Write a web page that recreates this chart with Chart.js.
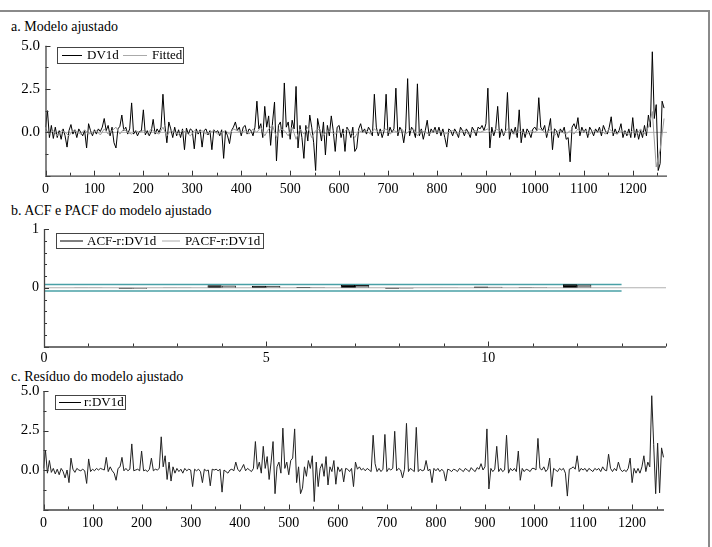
<!DOCTYPE html>
<html><head><meta charset="utf-8">
<script src="https://cdn.jsdelivr.net/npm/chart.js@4.4.1/dist/chart.umd.min.js"></script>
<style>
html,body{margin:0;padding:0;background:#fff;}
body{width:712px;height:547px;position:relative;overflow:hidden;font-family:"Liberation Serif",serif;}
.frame{position:absolute;left:-2px;top:10px;width:710px;height:545px;border-top:2px solid #8a8a8a;border-right:2px solid #8a8a8a;}
.title{position:absolute;left:11px;font-size:14px;line-height:16px;color:#000;white-space:nowrap;}
canvas{position:absolute;left:0;}
</style></head><body>
<div class="frame"></div>
<div class="title" style="top:19px">a. Modelo ajustado</div>
<div class="title" style="top:203px">b. ACF e PACF do modelo ajustado</div>
<div class="title" style="top:369px">c. Resíduo do modelo ajustado</div>
<canvas id="ca" width="712" height="175" style="top:30px;width:712px;height:175px"></canvas>
<canvas id="cb" width="712" height="160" style="top:215px;width:712px;height:160px"></canvas>
<canvas id="cc" width="712" height="169" style="top:378px;width:712px;height:169px"></canvas>
<script>
// ---------- data ----------
const dvStep = 4;          // DV1d sampled every 4 observations (0..1264)
const dv1d = [
 0.3,1.25,-0.3,0.4,-0.35,0.3,-0.3,0.1,-0.4,0.2,-0.2,-0.85,0.1,0.45,-0.1,0.15,-0.3,0.2,0.0,-0.2,0.1,-0.9,0.5,0.1,-0.2,
 0.15,-0.1,0.2,0.05,0.3,0.8,0.1,0.4,-0.2,0.3,-0.6,-0.9,0.2,0.35,1.0,0.1,0.3,-0.1,0.2,1.7,-0.1,0.1,-0.2,0.05,0.1,
 1.3,-0.15,0.1,-0.2,0.05,0.75,-0.1,0.2,0.0,0.3,2.2,0.4,-0.6,0.6,0.2,-0.3,0.3,-0.2,0.15,-0.3,0.2,-1.0,0.25,-0.1,0.2,
 0.1,-0.95,0.2,-0.1,0.15,-0.85,0.1,0.2,-0.15,0.1,-1.0,0.15,0.0,0.1,-0.2,0.15,-1.5,0.1,-0.2,-0.65,0.1,0.3,0.6,0.1,0.3,
 -0.2,0.3,0.4,-0.1,0.2,0.1,-0.2,0.3,1.8,0.2,0.5,-0.3,1.5,0.3,0.95,-0.75,0.6,1.75,-1.65,0.4,0.6,-0.3,2.85,0.3,0.6,
 -0.4,0.7,0.2,2.65,-0.9,0.4,-0.3,-1.5,0.4,-0.5,1.0,0.3,-0.6,-2.2,0.8,0.2,-0.5,0.6,-1.3,0.4,-0.2,0.95,0.1,-1.1,0.3,
 0.4,-0.3,0.2,-1.1,0.3,0.1,-0.3,0.3,-1.1,-0.9,0.2,0.5,0.0,0.2,-0.1,0.3,0.1,-0.2,2.2,0.3,-0.2,0.2,-0.3,0.1,2.2,
 -0.2,0.3,0.0,0.2,2.55,-0.2,0.3,0.1,-0.6,0.2,3.1,-0.2,0.3,0.1,-0.3,2.8,-0.2,0.2,-0.4,0.1,0.7,-0.2,0.2,0.0,0.3,
 -0.1,0.3,-0.2,0.2,-0.3,-0.85,0.2,0.1,-0.2,0.2,0.0,-0.3,0.3,0.1,-0.2,0.2,0.0,-0.3,0.3,0.1,-0.2,0.3,0.2,0.4,0.1,
 0.5,2.55,-0.9,0.3,-0.2,0.2,1.5,-0.3,0.2,-0.2,0.1,2.3,-0.4,0.2,-0.1,0.3,-0.3,1.3,-0.6,0.2,-0.3,0.2,0.0,-0.3,0.2,
 0.3,0.1,2.0,0.3,0.1,0.4,-0.3,0.2,0.8,-1.0,0.2,0.1,-0.3,0.2,0.0,0.3,-0.4,-0.3,-1.7,0.3,0.5,0.2,0.85,-0.2,0.3,
 0.0,0.2,-0.3,0.3,0.1,-0.2,0.2,0.0,0.3,-0.2,0.4,0.1,-0.1,0.3,0.9,-0.2,0.2,-0.1,0.1,0.5,-0.3,0.1,-0.2,0.2,-0.3,
 0.85,-0.3,0.2,-0.4,0.1,-0.3,0.4,-0.2,1.0,0.3,4.65,0.8,1.6,-2.2,-1.8,1.8,1.4
];
const fitStep = 8;         // Fitted sampled every 8 observations (0..1264)
const fitted = [
 0.2,-0.1,0.1,-0.2,0.1,0.0,-0.2,0.1,0.05,-0.1,0.15,-0.1,0.0,0.1,-0.15,0.2,-0.1,0.1,0.3,-0.1,0.2,0.0,-0.1,0.1,0.0,
 0.1,-0.1,0.2,0.0,-0.1,0.3,-0.2,0.1,0.0,-0.1,0.1,0.0,-0.2,0.1,0.0,0.1,-0.1,0.0,0.1,-0.1,0.0,0.1,-0.1,0.2,0.1,
 0.0,0.1,-0.1,0.2,0.0,0.3,-0.2,0.2,0.4,-0.3,0.2,0.1,-0.2,0.3,-0.4,0.2,-0.1,0.3,-0.3,0.1,0.2,-0.2,0.1,0.0,-0.1,
 0.1,-0.1,0.2,0.0,-0.3,0.1,0.0,0.1,-0.1,0.2,0.0,0.1,0.2,-0.1,0.1,0.0,0.2,-0.1,0.1,0.2,-0.2,0.1,0.0,-0.1,0.1,
 0.0,0.1,-0.1,0.0,0.1,-0.1,0.0,0.1,-0.1,0.0,0.1,0.0,0.1,0.2,-0.1,0.2,0.1,-0.1,0.2,0.0,-0.1,0.1,0.0,-0.1,0.1,
 0.0,0.2,0.1,-0.1,0.2,-0.2,0.1,0.0,-0.1,0.1,-0.1,0.2,0.0,0.1,-0.1,0.1,0.0,0.1,-0.1,0.2,0.0,-0.1,0.1,0.0,-0.1,
 0.1,-0.1,0.2,-0.1,0.3,1.2,-2.0,-1.0,0.8
];
const resStep = 4;         // residual sampled every 4 observations (0..1264)
const resid = [
 0.1,1.25,-0.2,0.6,-0.15,0.1,-0.25,0.05,-0.3,0.1,-0.1,-0.5,0.0,-0.8,0.75,0.05,-0.15,0.1,0.0,-0.05,0.05,-0.05,-0.85,0.7,-0.1,
 0.05,-0.05,0.1,0.0,0.1,0.05,0.0,0.8,-0.1,0.2,-0.05,-0.2,-0.65,0.1,0.2,0.8,-0.05,0.1,-0.05,0.05,1.65,-0.05,0.0,0.05,-0.05,
 1.2,-0.05,0.0,-0.1,0.05,0.75,-0.05,0.05,0.0,0.1,2.1,0.2,0.9,-0.6,0.5,-0.7,0.2,-0.2,0.1,-0.1,0.05,-0.2,0.1,-0.05,0.05,
 0.0,-1.05,0.05,-0.05,0.05,-0.1,-0.8,0.05,-0.05,0.0,-1.0,0.05,0.0,0.05,-0.05,0.05,-1.4,0.0,-0.1,-0.2,0.0,0.05,-0.05,0.5,0.05,
 -0.1,0.1,0.35,-0.05,0.1,0.0,-0.1,0.1,1.8,0.05,0.5,-0.2,1.5,0.1,0.85,-0.6,0.5,1.8,-1.5,0.2,0.5,-0.2,2.65,0.1,0.5,
 -0.3,0.6,0.75,2.6,-0.8,0.2,-1.5,-1.15,0.2,-0.4,0.6,0.1,0.9,-2.0,0.5,-1.05,0.1,0.4,-0.4,0.85,-0.95,0.2,-0.1,0.6,-0.9,
 0.2,-0.1,0.1,-0.75,0.1,0.05,-0.1,0.1,-1.05,0.5,0.05,0.2,0.0,0.1,-0.05,0.1,0.0,-0.1,2.2,0.4,-0.1,0.1,-0.1,0.05,2.25,
 -0.1,0.1,0.0,0.1,2.45,-0.05,0.1,0.0,-0.5,0.05,2.95,-0.1,0.1,0.0,-0.1,2.7,-0.1,0.05,-0.05,0.0,0.6,-0.05,0.05,-0.8,0.1,
 -0.05,0.1,-0.1,0.05,-0.1,-0.7,0.05,0.0,-0.1,0.05,0.0,-0.1,0.1,0.0,-0.1,0.1,0.0,-0.1,0.15,0.0,-0.1,0.15,0.05,0.4,0.0,
 0.2,2.6,-1.2,0.1,-0.1,0.05,1.5,-0.1,0.1,-0.1,0.0,2.2,-0.2,0.1,-0.05,0.1,-0.1,1.2,-0.65,0.1,-0.1,0.05,0.0,-0.1,0.1,
 0.1,0.0,2.0,0.1,0.0,0.2,-0.1,0.05,0.75,-1.05,0.1,0.0,-0.1,0.1,0.0,0.1,-0.2,-1.65,0.05,0.1,0.2,0.05,0.9,-0.1,0.1,
 0.0,0.1,-0.1,0.1,0.0,-0.1,0.1,0.0,0.1,-0.1,0.2,0.0,-0.05,1.0,0.1,-0.1,0.1,-0.05,0.5,0.05,-0.1,0.0,-0.1,0.1,0.75,
 -0.8,0.1,-0.2,0.1,-0.2,0.2,0.9,-0.1,0.5,0.2,4.7,1.6,-1.5,1.7,-1.45,1.4,0.8
];
const lags = [1,2,3,4,5,6,7,8,9,10,11,12];
const acf  = [0.004,-0.018,0.003,0.042,0.032,0.012,0.05,-0.015,-0.005,0.02,0.01,0.06];
const pacf = [0.004,-0.015,0.003,0.038,0.03,0.01,0.046,-0.012,-0.004,0.018,0.008,0.055];
const confBound = 0.0563;
const confLagMax = 13;

const xTicksTime = [0,100,200,300,400,500,600,700,800,900,1000,1100,1200];
const xLabelsTime = ['0','100','200','300','400','500','600','700','800','900','1000','1100','1200'];
const yTicksSeries = [0,2.5,5];
const yLabelsSeries = ['0.0','2.5','5.0'];
const xTicksLag = [0,5,10];
const xLabelsLag = ['0','5','10'];
const yTicksCorr = [0,1];
const yLabelsCorr = ['0','1'];

// ---------- helpers ----------
const FONT = '"Liberation Serif", "Times New Roman", serif';
const pts = (vals, step) => vals.map((v,i)=>({x:i*step, y:v}));
const setTicks = vals => s => { s.ticks = vals.map(v=>({value:v})); };

const decor = {
  id:'decor',
  afterDraw(chart, args, o){
    if(!o || !o.on) return;
    const {ctx, chartArea:a, scales:{x,y}} = chart;
    ctx.save();
    ctx.strokeStyle = '#333'; ctx.lineWidth = 1;
    ctx.beginPath();
    const isMaj = (v,m)=>Math.abs(v/m-Math.round(v/m))<1e-6;
    for(let v=x.min; v<=x.max+1e-9; v+=o.xMinor){
      const px = Math.round(x.getPixelForValue(v))+0.5;
      ctx.moveTo(px, a.bottom); ctx.lineTo(px, a.bottom-(isMaj(v,o.xMajor)?5:3));
    }
    for(let v=y.min; v<=y.max+1e-9; v+=o.yMinor){
      const py = Math.round(y.getPixelForValue(v))+0.5;
      ctx.moveTo(a.left, py); ctx.lineTo(a.left+(isMaj(v,o.yMajor)?5:3), py);
    }
    ctx.stroke();
    ctx.lineWidth = 1.3; ctx.strokeStyle='#444';
    ctx.beginPath();
    ctx.moveTo(a.left+0.5, a.top); ctx.lineTo(a.left+0.5, a.bottom+0.5); ctx.lineTo(a.right, a.bottom+0.5);
    ctx.stroke();
    // legend box
    const L = o.legend;
    ctx.lineWidth = 1; ctx.strokeStyle = '#444';
    ctx.strokeRect(L.box[0]+0.5, L.box[1]+0.5, L.box[2]-L.box[0], L.box[3]-L.box[1]);
    const cy = (L.box[1]+L.box[3])/2+0.5;
    ctx.font = '13px ' + FONT; ctx.fillStyle = '#000'; ctx.textBaseline='middle'; ctx.textAlign='left';
    L.items.forEach(it=>{
      ctx.strokeStyle = it.color; ctx.lineWidth = 1;
      ctx.beginPath(); ctx.moveTo(it.x1, cy); ctx.lineTo(it.x2, cy); ctx.stroke();
      ctx.fillText(it.text, it.tx, cy+0.5);
    });
    ctx.restore();
  }
};
Chart.register(decor);

function baseScales(xmin,xmax,xt,xl,ymin,ymax,yt,yl,xh,yw,xpad,ypad,yfs){
  return {
    x:{type:'linear',min:xmin,max:xmax,offset:false,
       grid:{display:false,drawTicks:false},border:{display:false},
       afterBuildTicks:setTicks(xt), afterFit:s=>{s.height=xh;},
       ticks:{padding:xpad,color:'#000',font:{family:FONT,size:14},maxRotation:0,autoSkip:false,callback:(v,i)=>xl[i]}},
    y:{type:'linear',min:ymin,max:ymax,
       grid:{display:false,drawTicks:false},border:{display:false},
       afterBuildTicks:setTicks(yt), afterFit:s=>{s.width=yw;},
       ticks:{padding:ypad,color:'#000',font:{family:FONT,size:yfs},autoSkip:false,callback:(v,i)=>yl[i]}}
  };
}
const common = {responsive:false, animation:false, devicePixelRatio:1, events:[]};

// ---------- panel a ----------
new Chart(document.getElementById('ca'), {
  type:'line',
  data:{datasets:[
    {label:'DV1d', data:pts(dv1d,dvStep), borderColor:'#000', borderWidth:1, pointRadius:0, tension:0, order:2},
    {label:'Fitted', data:pts(fitted,fitStep), borderColor:'#9a9a9a', borderWidth:1, pointRadius:0, tension:0, order:1},
    {label:'zero', data:[{x:0,y:0},{x:1270,y:0}], borderColor:'#b0b0b0', borderWidth:1, pointRadius:0, order:3}
  ]},
  options:Object.assign({}, common, {
    layout:{padding:{left:0,right:45,top:15.7,bottom:0}},
    plugins:{legend:{display:false},tooltip:{enabled:false},
      decor:{on:true,xMinor:50,xMajor:100,yMinor:1.25,yMajor:2.5,
        legend:{box:[57,17,183,33],items:[
          {x1:62,x2:82,tx:87,text:'DV1d',color:'#000'},
          {x1:123,x2:147,tx:152,text:'Fitted',color:'#aaa'}]}}},
    scales:baseScales(0,1270,xTicksTime,xLabelsTime,-2.5,5,yTicksSeries,yLabelsSeries,29.3,45.5,5,5.5,15)
  })
});

// ---------- panel b ----------
new Chart(document.getElementById('cb'), {
  type:'bar',
  data:{datasets:[
    {type:'bar',label:'ACF-r:DV1d', data:lags.map((l,i)=>({x:l,y:acf[i]})), backgroundColor:'#000', borderColor:'#000', borderWidth:1, categoryPercentage:0.64, barPercentage:1, order:1},
    {type:'bar',label:'PACF-r:DV1d', data:lags.map((l,i)=>({x:l,y:pacf[i]})), backgroundColor:'#8c8c8c', borderColor:'#222', borderWidth:1, categoryPercentage:0.64, barPercentage:1, order:1},
    {type:'line',label:'upper', data:[{x:0,y:confBound},{x:confLagMax,y:confBound}], borderColor:'#49a0a6', borderWidth:1.6, pointRadius:0, order:2},
    {type:'line',label:'lower', data:[{x:0,y:-confBound},{x:confLagMax,y:-confBound}], borderColor:'#49a0a6', borderWidth:1.6, pointRadius:0, order:2},
    {type:'line',label:'zero', data:[{x:0,y:0},{x:14,y:0}], borderColor:'#b0b0b0', borderWidth:1, pointRadius:0, order:3}
  ]},
  options:Object.assign({}, common, {
    layout:{padding:{left:0,right:46,top:14,bottom:0}},
    plugins:{legend:{display:false},tooltip:{enabled:false},
      decor:{on:true,xMinor:1,xMajor:5,yMinor:0.2,yMajor:1,
        legend:{box:[56,18,263,33],items:[
          {x1:60,x2:83,tx:87,text:'ACF-r:DV1d',color:'#000'},
          {x1:162,x2:180,tx:185,text:'PACF-r:DV1d',color:'#aaa'}]}}},
    scales:baseScales(0,14,xTicksLag,xLabelsLag,-1,1,yTicksCorr,yLabelsCorr,28.5,44,3,5,14)
  })
});

// ---------- panel c ----------
new Chart(document.getElementById('cc'), {
  type:'line',
  data:{datasets:[
    {label:'r:DV1d', data:pts(resid,resStep), borderColor:'#222', borderWidth:1, pointRadius:0, tension:0}
  ]},
  options:Object.assign({}, common, {
    layout:{padding:{left:0,right:48,top:12.5,bottom:0}},
    plugins:{legend:{display:false},tooltip:{enabled:false},
      decor:{on:true,xMinor:50,xMajor:100,yMinor:1.25,yMajor:2.5,
        legend:{box:[55,17,125,31],items:[
          {x1:59,x2:81,tx:84,text:'r:DV1d',color:'#000'}]}}},
    scales:baseScales(0,1265,xTicksTime,xLabelsTime,-2.5,5,yTicksSeries,yLabelsSeries,37.5,43.5,5,4,15)
  })
});
</script>
</body></html>
